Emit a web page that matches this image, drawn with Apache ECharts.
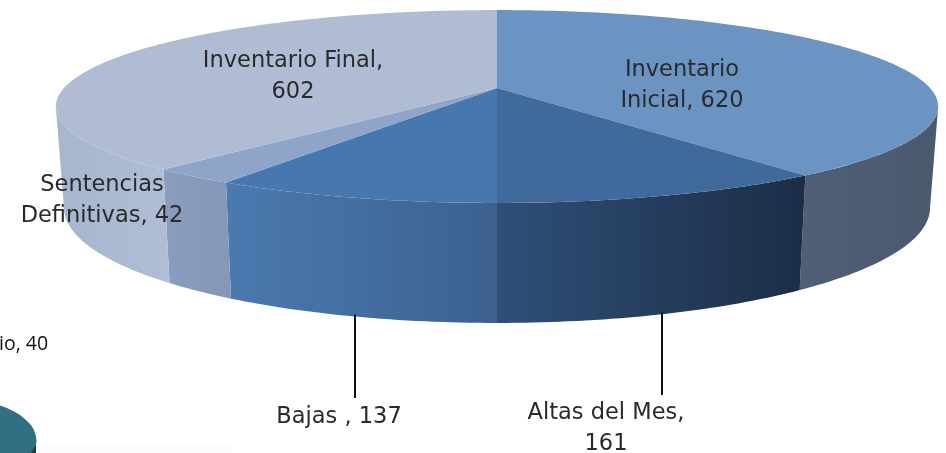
<!DOCTYPE html>
<html>
<head>
<meta charset="utf-8">
<style>
  html, body { margin: 0; padding: 0; background: #fff; }
  #chart { width: 946px; height: 453px; }
</style>
<script src="https://cdn.jsdelivr.net/npm/echarts@6/dist/echarts.min.js"></script>
</head>
<body>
<div id="chart"></div>
<script>
// datos
const categories = ['Inventario Inicial', 'Altas del Mes', 'Bajas ', 'Sentencias Definitivas', 'Inventario Final'];
const values = [620, 161, 137, 42, 602];

// estilo de cada rebanada
const topColors = ['#6b94c2', '#40699c', '#4677ae', '#8ea4c8', '#afbcd4'];
const wallColors = [
  ['#4f5f77', '#4b596e'],
  ['#2f4f78', '#1c2d45'],
  ['#4a7ab0', '#3c618f'],
  ['#8a9dbf', '#8497b8'],
  ['#a8b5cf', '#b0bdd6']
];
// texto de las etiquetas: centro del bloque de texto
const labelPlaces = [
  { x: 682, y: 86, lines: ['Inventario', 'Inicial, 620'] },
  { x: 606, y: 429, lines: ['Altas del Mes,', '161'], leaderTo: 395 },
  { x: 339, y: 417, lines: ['Bajas , 137'], leaderTo: 398 },
  { x: 102, y: 201, lines: ['Sentencias', 'Definitivas, 42'] },
  { x: 293, y: 76.5, lines: ['Inventario Final,', '602'] }
];

// proyeccion en perspectiva del circulo
const k = 0.1917;
const topRing = { cx: 497, cy: 88, rx: 433, ry: 92.9 };
const bottomRing = { cx: 497, cy: 185.6, rx: 425, ry: 111 };
const sum = values.reduce((a, b) => a + b, 0);

function project(ring, deg) {
  const t = deg * Math.PI / 180;
  const u = Math.sin(t);
  const v = -Math.cos(t);
  const w = 1 - k * v;
  return [ring.cx + ring.rx * u / w, ring.cy + ring.ry * v / w];
}

function arc(ring, a0, a1) {
  const pts = [];
  const n = Math.max(2, Math.ceil(Math.abs(a1 - a0)));
  for (let i = 0; i <= n; i++) {
    pts.push(project(ring, a0 + (a1 - a0) * i / n));
  }
  return pts;
}

// hasta donde se ve la pared lateral
const edge = Math.acos(-k) * 180 / Math.PI;

function renderSlice(params, api) {
  const i = params.dataIndex;
  const val = api.value(0);
  let before = 0;
  for (let j = 0; j < i; j++) before += values[j];
  const start = before / sum * 360;
  const end = start + val / sum * 360;
  const children = [];

  const a0 = Math.max(start, edge);
  const a1 = Math.min(end, 360 - edge);
  if (a1 > a0) {
    const upper = arc(topRing, a0, a1);
    const lower = arc(bottomRing, a1, a0);
    const xs = upper.concat(lower).map(p => p[0]);
    // el degradado va de izquierda a derecha
    children.push({
      type: 'polygon',
      z2: 1,
      shape: { points: upper.concat(lower) },
      style: {
        fill: {
          type: 'linear', global: true,
          x: Math.min.apply(null, xs), y: 0, x2: Math.max.apply(null, xs), y2: 0,
          colorStops: [
            { offset: 0, color: wallColors[i][0] },
            { offset: 1, color: wallColors[i][1] }
          ]
        }
      }
    });
  }

  children.push({
    type: 'polygon',
    z2: 2,
    shape: { points: [[topRing.cx, topRing.cy]].concat(arc(topRing, start, end)) },
    style: { fill: topColors[i] }
  });

  const place = labelPlaces[i];
  if (place.leaderTo) {
    const p = project(bottomRing, (start + end) / 2);
    const lx = Math.round(p[0]);
    children.push({
      type: 'line',
      z2: 3,
      shape: { x1: lx, y1: p[1] - 2, x2: lx, y2: place.leaderTo },
      style: { stroke: '#111', lineWidth: 2 }
    });
  }
  children.push({
    type: 'text',
    z2: 4,
    x: place.x,
    y: place.y,
    style: {
      text: place.lines.join('\n'),
      font: '22.5px "DejaVu Sans", sans-serif',
      lineHeight: 31,
      fill: '#2a2a2a',
      align: 'center',
      verticalAlign: 'middle'
    }
  });
  return { type: 'group', children: children };
}

const chart = echarts.init(document.getElementById('chart'), null, { renderer: 'canvas' });
chart.setOption({
  backgroundColor: '#ffffff',
  animation: false,
  series: [{
    type: 'custom',
    coordinateSystem: 'none',
    silent: true,
    clip: false,
    renderItem: renderSlice,
    encode: { value: 0 },
    data: categories.map((c, i) => ({ name: c, value: [values[i]] }))
  }],
  // restos de otro grafico recortado, abajo a la izquierda
  graphic: [
    {
      type: 'text', x: -1, y: 344,
      style: { text: 'io, 40', font: '19.5px "Open Sans", sans-serif', fill: '#111', verticalAlign: 'middle' }
    },
    {
      type: 'rect',
      shape: { x: 36, y: 444, width: 195, height: 9 },
      style: { fill: '#fcfcfc' }
    },
    {
      type: 'polygon',
      shape: { points: [[0, 405.5], [7, 408], [14, 411.5], [20, 415], [26, 420], [31, 425], [34, 430], [36, 436], [36.5, 442], [35, 447], [33, 453], [0, 453]] },
      style: { fill: '#336f82' }
    },
    {
      type: 'polygon',
      shape: { points: [[36, 444], [36, 453], [31, 453]] },
      style: { fill: '#1f3c48' }
    }
  ]
});
</script>
</body>
</html>
